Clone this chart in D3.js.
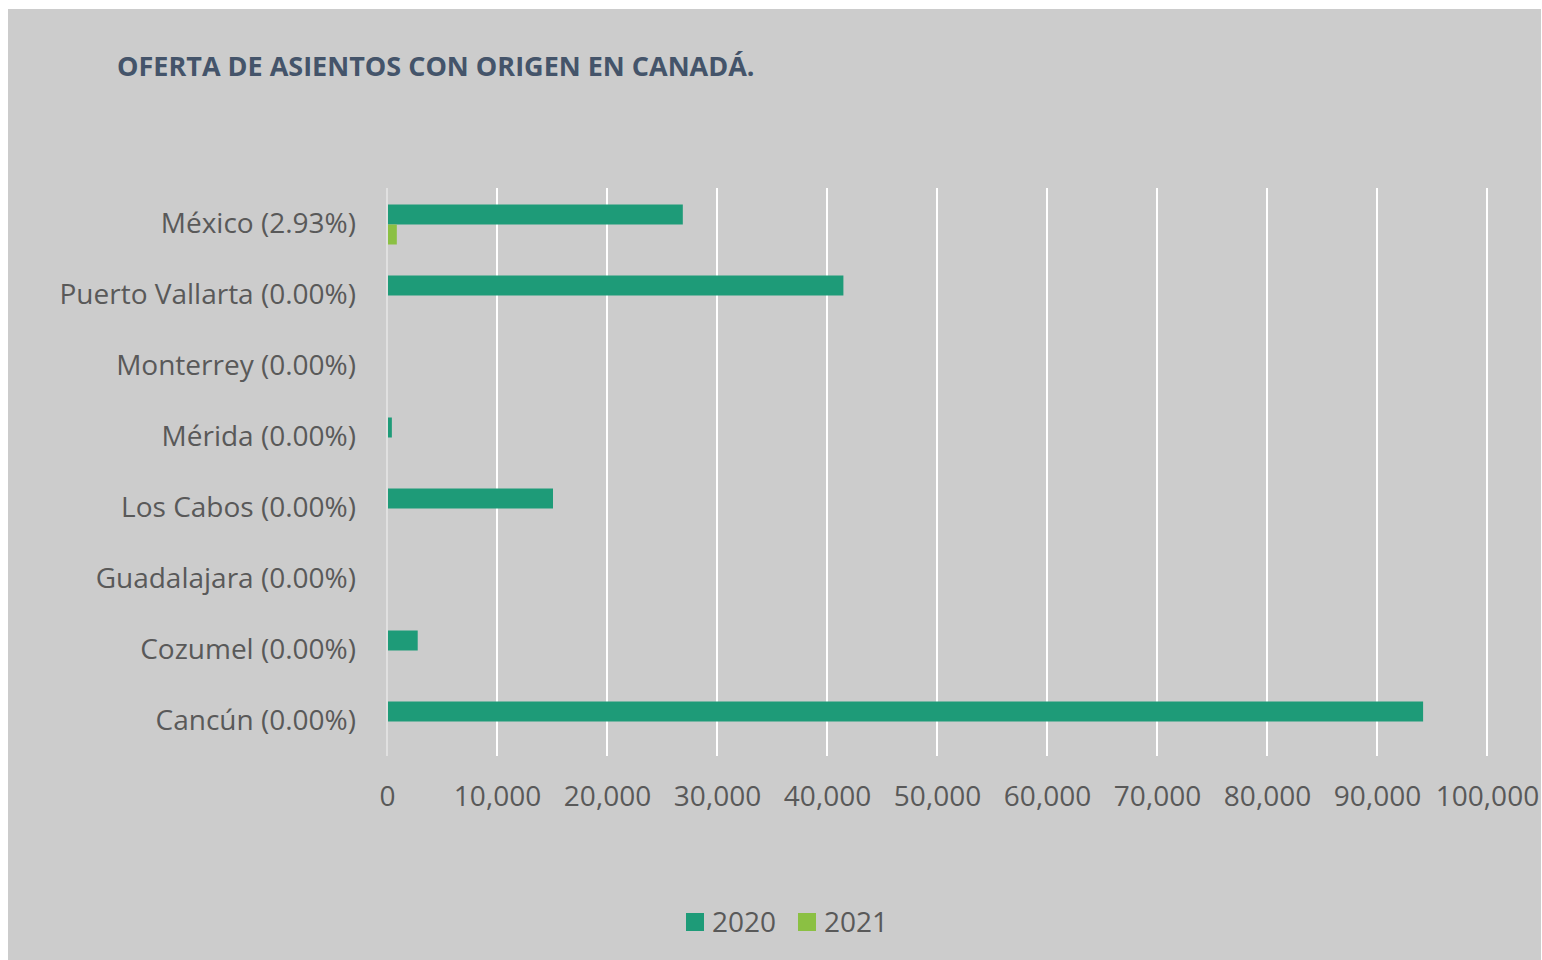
<!DOCTYPE html>
<html>
<head>
<meta charset="UTF-8">
<title>Oferta de asientos con origen en Canadá</title>
<script src="https://d3js.org/d3.v7.min.js"></script>
<style>
	body { margin: 0; background: #ffffff; }
	svg { display: block; }
	text { font-family: "Open Sans", "Noto Sans", sans-serif; }
</style>
</head>
<body>
<script>

	// 데이터 / chart data
	var categories = ["México (2.93%)", "Puerto Vallarta (0.00%)", "Monterrey (0.00%)", "Mérida (0.00%)",
		"Los Cabos (0.00%)", "Guadalajara (0.00%)", "Cozumel (0.00%)", "Cancún (0.00%)"];
	var seriesNames = ["2020", "2021"];
	var values2020 = [26800, 41400, 0, 350, 15000, 0, 2700, 94100];
	var values2021 = [800, 0, 0, 0, 0, 0, 0, 0];
	var xTicks = [0, 10000, 20000, 30000, 40000, 50000, 60000, 70000, 80000, 90000, 100000];

	var Settings = {
		width : 1542,
		height : 960,
		bg : "#cccccc",
		colors : ["#1e9b78", "#8bc043"],
		plot : { left : 387, right : 1487, top : 188, bottom : 756 }
	};

	var svg = d3.select("body").append("svg")
		.attr("width", Settings.width)
		.attr("height", Settings.height);

	// 배경
	svg.append("rect")
		.attr("x", 8).attr("y", 9)
		.attr("width", 1533).attr("height", 951)
		.attr("fill", Settings.bg);

	// 제목
	svg.append("text")
		.attr("x", 117).attr("y", 76)
		.attr("fill", "#44546a")
		.attr("font-size", 27)
		.attr("font-weight", 700)
		.text("OFERTA DE ASIENTOS CON ORIGEN EN CANADÁ.");

	var x = d3.scaleLinear()
		.domain([0, 100000])
		.range([Settings.plot.left, Settings.plot.right]);

	var y = d3.scaleBand()
		.domain(categories)
		.range([Settings.plot.top, Settings.plot.bottom]);

	var inner = d3.scaleBand()
		.domain(seriesNames)
		.range([0, 40]);

	// grid lines
	svg.append("g")
		.selectAll("line")
		.data(xTicks)
		.enter().append("line")
		.attr("x1", function (d) { return x(d); })
		.attr("x2", function (d) { return x(d); })
		.attr("y1", Settings.plot.top)
		.attr("y2", Settings.plot.bottom)
		.attr("stroke", function (d) { return d === 0 ? "#e0e0e0" : "#ffffff"; })
		.attr("stroke-width", 2);

	// bars
	var rows = categories.map(function (c, i) {
		return [{ cat : c, s : "2020", v : values2020[i] }, { cat : c, s : "2021", v : values2021[i] }];
	});

	svg.append("g")
		.selectAll("g")
		.data(rows)
		.enter().append("g")
		.attr("transform", function (d) {
			return "translate(0," + (y(d[0].cat) + y.bandwidth() / 2 - 19) + ")";
		})
		.selectAll("rect")
		.data(function (d) { return d.filter(function (e) { return e.v > 0; }); })
		.enter().append("rect")
		.attr("x", x(0) + 1)
		.attr("y", function (d) { return inner(d.s); })
		.attr("width", function (d) { return x(d.v) - x(0); })
		.attr("height", inner.bandwidth())
		.attr("fill", function (d) { return Settings.colors[seriesNames.indexOf(d.s)]; });

	// category labels
	var yAxis = d3.axisLeft(y).tickSize(0).tickPadding(0);
	svg.append("g")
		.attr("transform", "translate(356,1)")
		.call(yAxis)
		.call(function (g) { g.select(".domain").remove(); })
		.selectAll("text")
		.attr("font-size", 28)
		.attr("font-family", "\"Open Sans\", sans-serif")
		.attr("fill", "#595959");

	// value axis labels
	var xAxis = d3.axisBottom(x)
		.tickValues(xTicks)
		.tickSize(0)
		.tickPadding(0)
		.tickFormat(d3.format(","));
	svg.append("g")
		.attr("transform", "translate(0,786)")
		.call(xAxis)
		.call(function (g) { g.select(".domain").remove(); })
		.selectAll("text")
		.attr("font-size", 28)
		.attr("font-family", "\"Open Sans\", sans-serif")
		.attr("fill", "#595959");

	// legend
	var legend = svg.append("g")
		.selectAll("g")
		.data(seriesNames)
		.enter().append("g")
		.attr("transform", function (d, i) { return "translate(" + (686 + i * 112) + ",913)"; });

	legend.append("rect")
		.attr("width", 18).attr("height", 18)
		.attr("fill", function (d, i) { return Settings.colors[i]; });

	legend.append("text")
		.attr("x", 26).attr("y", 19)
		.attr("font-size", 28)
		.attr("fill", "#595959")
		.text(function (d) { return d; });

</script>
</body>
</html>
